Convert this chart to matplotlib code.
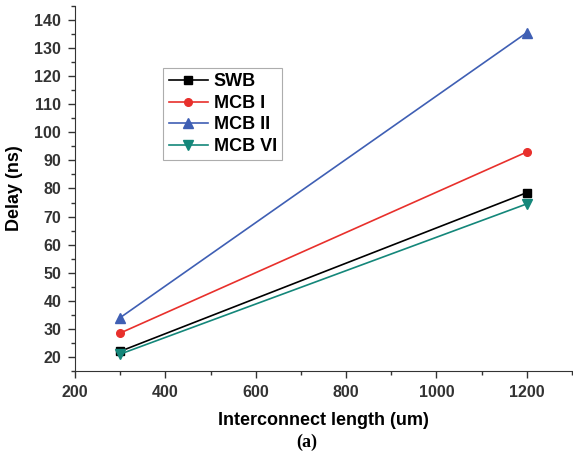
import numpy as np
import matplotlib.pyplot as plt
from matplotlib.ticker import MultipleLocator

# data
length = [300, 1200]
swb = [22, 78.5]
mcb1 = [28.5, 93]
mcb2 = [34, 135.5]
mcb6 = [21, 74.5]

plt.rcParams['font.family'] = ['Liberation Sans', 'DejaVu Sans']
plt.rcParams['font.weight'] = 'bold'

fig = plt.figure(figsize=(5.73, 4.66), dpi=100)
ax = fig.add_axes([0.131, 0.204, 0.867, 0.783])

ax.plot(length, swb, color='black', marker='s', ms=5.5, lw=1.2, label='SWB')
ax.plot(length, mcb1, color='#e8302c', marker='o', ms=5.5, lw=1.2, label='MCB I')
ax.plot(length, mcb2, color='#3f5fb4', marker='^', ms=6.5, lw=1.2, label='MCB II')
ax.plot(length, mcb6, color='#14877a', marker='v', ms=6.5, lw=1.2, label='MCB VI')

ax.set_xlim(200, 1300)
ax.set_ylim(15, 145)
ax.xaxis.set_major_locator(MultipleLocator(200))
ax.xaxis.set_minor_locator(MultipleLocator(100))
ax.yaxis.set_major_locator(MultipleLocator(10))
ax.yaxis.set_minor_locator(MultipleLocator(5))
ax.set_xticks(np.arange(200, 1201, 200))
ax.tick_params(which='major', direction='out', length=5, width=1, labelsize=11.5, colors='#333333', pad=5)
ax.tick_params(which='minor', direction='out', length=3, width=1, colors='#333333')
ax.spines['top'].set_visible(False)
ax.spines['right'].set_visible(False)
for s in ['left', 'bottom']:
    ax.spines[s].set_color('#333333')

ax.set_xlabel('Interconnect length (um)', fontsize=13, fontweight='bold', labelpad=9)
ax.set_ylabel('Delay (ns)', fontsize=13, fontweight='bold', labelpad=8)

leg = ax.legend(loc='upper left', bbox_to_anchor=(0.17, 0.84), fontsize=13,
                fancybox=False, edgecolor='#999999', handlelength=2.2,
                borderpad=0.3, labelspacing=0.25, handletextpad=0.3,
                borderaxespad=0.2)
leg.get_frame().set_linewidth(0.8)

fig.text(0.535, 0.04, '(a)', fontsize=13, fontweight='bold', ha='center',
         family=['Liberation Serif', 'DejaVu Serif'])

fig.savefig('out.png', dpi=100)
